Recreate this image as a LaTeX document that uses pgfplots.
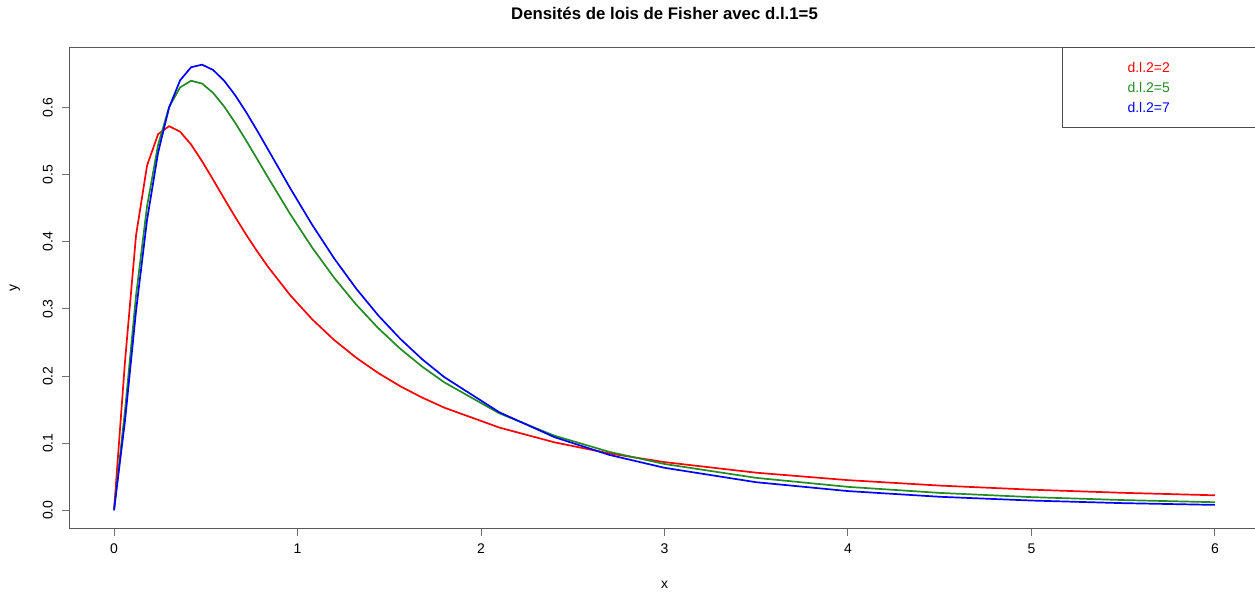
\documentclass[border=0pt]{standalone}
\usepackage{fontspec}
\setmainfont{Liberation Sans}
\usepackage{pgfplots}
\pgfplotsset{compat=1.18}
\definecolor{rred}{HTML}{FF0000}
\definecolor{rgreen}{HTML}{228B22}
\definecolor{rblue}{HTML}{0000FF}

% F densities, d.l.1 = 5, read at x = 0, 0.06, ...
\pgfplotstableread{
x     d2    d5    d7
0     0     0     0
0.06  0.2226 0.1492 0.1338
0.12  0.4100 0.3203 0.2973
0.18  0.5139 0.4534 0.4329
0.24  0.5606 0.5447 0.5329
0.30  0.5726 0.6010 0.6004
0.36  0.5644 0.6305 0.6409
0.42  0.5452 0.6403 0.6605
0.48  0.5202 0.6361 0.6643
0.54  0.4928 0.6222 0.6564
0.60  0.4648 0.6020 0.6404
0.66  0.4373 0.5777 0.6188
0.72  0.4109 0.5512 0.5935
0.78  0.3860 0.5236 0.5660
0.84  0.3626 0.4958 0.5375
0.96  0.3206 0.4416 0.4801
1.08  0.2846 0.3915 0.4255
1.20  0.2537 0.3464 0.3753
1.32  0.2273 0.3065 0.3303
1.44  0.2045 0.2714 0.2904
1.56  0.1848 0.2407 0.2555
1.68  0.1678 0.2139 0.2249
1.80  0.1529 0.1906 0.1984
2.1   0.1232 0.1444 0.1460
2.4   0.1012 0.1111 0.1089
2.7   0.0846 0.0869 0.0824
3.0   0.0717 0.0689 0.0632
3.5   0.0559 0.0482 0.0417
4.0   0.0448 0.0348 0.0285
4.5   0.0367 0.0258 0.0200
5.0   0.0306 0.0195 0.0144
5.5   0.0259 0.0151 0.0105
6.0   0.0222 0.0119 0.0079
}\fisher

\begin{document}
\begin{tikzpicture}
\begin{axis}[
  scale only axis,
  width=1189pt, height=481pt,
  xmin=-0.24, xmax=6.24,
  ymin=-0.02656, ymax=0.69064,
  xtick={0,1,2,3,4,5,6},
  ytick={0,0.1,0.2,0.3,0.4,0.5,0.6},
  xtick pos=bottom, ytick pos=left,
  yticklabel style={rotate=90, anchor=south, inner ysep=9pt,
    /pgf/number format/fixed, /pgf/number format/fixed zerofill,
    /pgf/number format/precision=1},
  xticklabel style={inner ysep=8pt},
  /pgf/number format/assume math mode=true,
  tick label style={font=\fontsize{14}{16}\selectfont},
  tick align=outside,
  major tick length=8pt,
  axis line style={black!65, line width=1pt},
  tick style={black!55, line width=1pt},
  title={Densités de lois de Fisher avec d.l.1=5},
  title style={font=\bfseries\fontsize{16.8}{20}\selectfont,
    at={(axis description cs:0.5,1.045)}, anchor=base},
  xlabel={x},
  xlabel style={font=\fontsize{14}{16}\selectfont,
    at={(axis description cs:0.5,-0.1185)}, anchor=center},
  ylabel={y},
  ylabel style={font=\fontsize{14}{16}\selectfont,
    at={(axis description cs:-0.0463,0.5)}, anchor=center},
  every axis plot/.append style={line width=1.7pt},
]
\addplot[rred] table[x=x, y=d2] {\fisher};
\addplot[rgreen] table[x=x, y=d5] {\fisher};
\addplot[rblue] table[x=x, y=d7] {\fisher};
\node[draw=black!70, fill=white, line width=1pt, anchor=north east,
  minimum height=80pt, inner ysep=0pt, inner xsep=65pt,
  text width=66pt, align=left,
  font=\fontsize{14}{20}\selectfont] at (rel axis cs:1,1)
  {\textcolor{rred}{d.l.2=2}\\\textcolor{rgreen}{d.l.2=5}\\\textcolor{rblue}{d.l.2=7}};
\end{axis}
\pgfresetboundingbox
\path ([xshift=-70pt,yshift=-66pt]current axis.south west)
  rectangle ([xshift=1185pt,yshift=47pt]current axis.north west);
\end{tikzpicture}
\end{document}
